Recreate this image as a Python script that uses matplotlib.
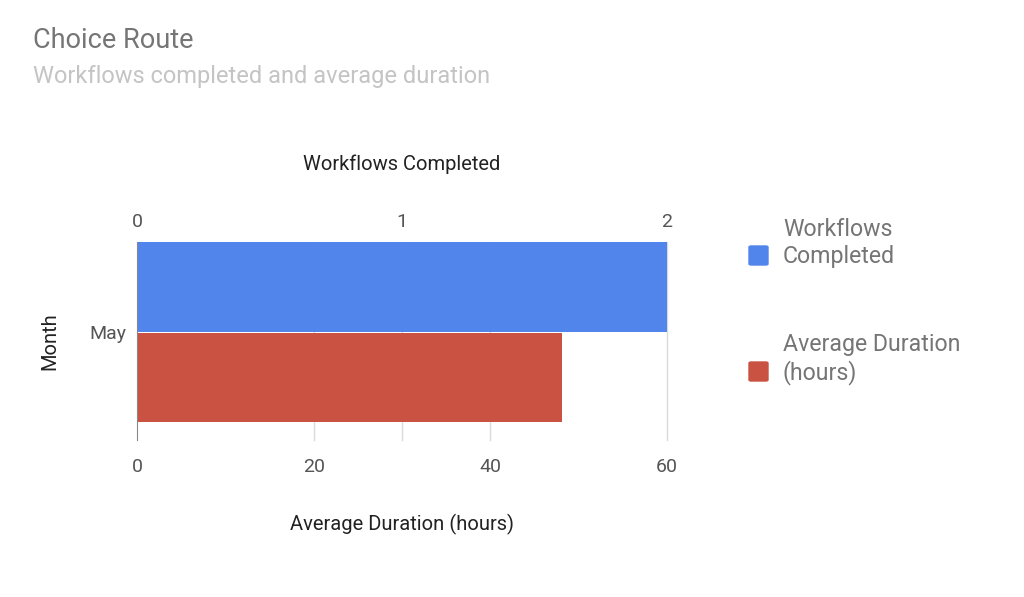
### DEPENDENCIES
### ------------------
import matplotlib
matplotlib.use("Agg")
import matplotlib.pyplot as plt
from matplotlib.patches import FancyBboxPatch

plt.rcParams['font.family'] = ['Roboto', 'DejaVu Sans']

### DATA
### ------------------
months = ['May']
workflows_completed = [2]
avg_duration_hours = [48.1]
series_labels = ['Workflows\nCompleted', 'Average Duration\n(hours)']
series_colors = ['#5285ec', '#c95242']
bottom_ticks = [0, 20, 40, 60]
top_ticks = [0, 1, 2]

### PLOT
### ------------------
fig = plt.figure(figsize=(10.24, 5.97), dpi=100)
ax = fig.add_axes([137/1024, 1 - 440/597, 530/1024, 198/597])
ax_top = ax.twiny()
ax_top.set_zorder(ax.get_zorder() - 1)
ax.patch.set_visible(False)

bar_h = 0.495
ax.barh([-0.25], avg_duration_hours, height=bar_h, color=series_colors[1], zorder=3)
ax.barh([0.25], [w * 30 for w in workflows_completed], height=bar_h,
        color=series_colors[0], zorder=3)

ax.set_xlim(0, 60)
ax_top.set_xlim(0, 2)
ax.set_ylim(-0.595, 0.5)
ax.set_yticks([0])
ax.set_yticklabels(months)

# gridlines (bottom ticks + top ticks mapped to bottom scale)
for v in bottom_ticks[1:] + [t * 30 for t in top_ticks[1:-1]]:
    ax.axvline(v, color='#dadada', lw=1, zorder=1, clip_on=False)

for a in (ax, ax_top):
    for s in a.spines.values():
        s.set_visible(False)
    a.tick_params(length=0, labelsize=14, labelcolor='#555555')
ax.spines['left'].set_visible(True)
ax.spines['left'].set_color('#888888')
ax.spines['left'].set_zorder(4)

ax.set_xticks(bottom_ticks)
ax_top.set_xticks(top_ticks)
ax.tick_params(axis='x', pad=13)
ax.tick_params(axis='y', pad=8)
ax_top.tick_params(axis='x', pad=8)

ax.set_xlabel('Average Duration (hours)', fontsize=14.5, color='#222222', labelpad=27)
ax_top.set_xlabel('Workflows Completed', fontsize=14.5, color='#222222', labelpad=31)
ax.set_ylabel('Month', fontsize=14.5, color='#222222', labelpad=21)

# titles
fig.text(33/1024, 1 - 41/597, 'Choice Route', fontsize=19.5, color='#757575', va='center')
fig.text(33/1024, 1 - 77/597, 'Workflows completed and average duration',
         fontsize=17, color='#c4c4c4', va='center')

# legend
legend_y = [243, 359]
for label, color, y in zip(series_labels, series_colors, legend_y):
    fig.patches.append(FancyBboxPatch((749/1024, 1 - (y + 22)/597), 19/1024, 19/597,
                                      boxstyle='round,pad=0,rounding_size=0.002',
                                      transform=fig.transFigure, color=color))
    fig.text(783/1024, 1 - y/597, label, fontsize=16.7, color='#757575',
             va='center', linespacing=1.2)

fig.savefig('out.png', dpi=100)
